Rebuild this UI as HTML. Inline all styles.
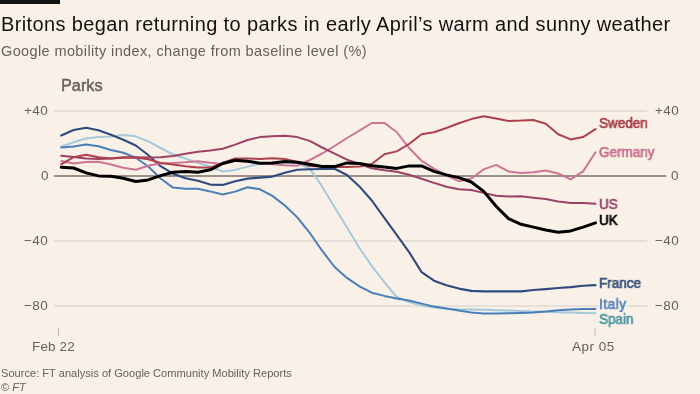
<!DOCTYPE html>
<html><head><meta charset="utf-8">
<style>
html,body{margin:0;padding:0;}
body{width:700px;height:394px;background:#f9f1e7;position:relative;overflow:hidden;font-family:"Liberation Sans",sans-serif;}
.t{position:absolute;white-space:nowrap;line-height:1;will-change:transform;}
#bar{position:absolute;left:0;top:0;width:60px;height:4px;background:#111;}
#title{left:1px;top:13.5px;font-size:20px;letter-spacing:0.38px;color:#121212;}
#sub{left:1px;top:43.5px;font-size:14.5px;letter-spacing:0.38px;color:#66605c;}
#parks{left:61px;top:76.6px;font-size:16.3px;font-weight:normal;-webkit-text-stroke:0.45px #66605c;color:#66605c;}
.yl{font-size:13.5px;color:#66605c;letter-spacing:0.4px;}
.lab{font-size:14px;font-weight:normal;-webkit-text-stroke:0.7px currentColor;transform:scaleX(0.965);transform-origin:0 0;background:#f9f1e7;}
#src{left:1px;top:367.5px;font-size:11.1px;color:#66605c;}
#cr{left:1px;top:381.5px;font-size:11.1px;color:#66605c;}
svg{position:absolute;left:0;top:0;}
</style></head><body>
<div id="bar"></div>
<div class="t" id="title">Britons began returning to parks in early April’s warm and sunny weather</div>
<div class="t" id="sub">Google mobility index, change from baseline level (%)</div>
<div class="t" id="parks">Parks</div>

<svg width="700" height="394" viewBox="0 0 700 394">
  <g stroke="#e1d9cf" stroke-width="1.5" fill="none">
    <line x1="54" y1="111" x2="647" y2="111"/>
    <line x1="54" y1="241" x2="647" y2="241"/>
    <line x1="54" y1="306" x2="647" y2="306"/>
  </g>
  <line x1="54.5" y1="176" x2="665.8" y2="176" stroke="#7b7169" stroke-width="1.6" stroke-linecap="round"/>
  <!--LINES-->
  <polyline points="61.2,146.6 73.6,142.3 86.1,138.4 98.5,136.9 110.9,136.4 123.3,135.1 135.8,136.3 148.2,141.4 160.6,148.0 173.0,154.5 185.5,158.5 197.9,163.0 210.3,166.5 222.7,171.5 235.2,169.9 247.6,166.6 260.0,163.7 272.4,163.0 284.9,162.5 297.3,163.0 309.7,168.6 322.1,186.4 334.6,207.3 347.0,227.5 359.4,248.0 371.8,266.0 384.3,282.1 396.7,297.0 409.1,302.0 421.6,305.5 434.0,307.6 446.4,308.8 458.8,309.3 471.3,309.5 483.7,309.8 496.1,310.2 508.5,310.6 521.0,311.0 533.4,311.4 545.8,311.8 558.2,312.2 570.7,312.6 583.1,313.0 595.5,313.3" stroke="#a4c9da" stroke-width="2" fill="none" stroke-linejoin="round" stroke-linecap="round"/>
  <polyline points="61.2,147.5 73.6,146.5 86.1,144.6 98.5,146.3 110.9,150.0 123.3,152.8 135.8,157.8 148.2,166.5 160.6,178.5 173.0,187.6 185.5,188.8 197.9,188.8 210.3,191.4 222.7,194.5 235.2,191.6 247.6,187.2 260.0,189.3 272.4,195.9 284.9,205.5 297.3,217.4 309.7,232.8 322.1,250.7 334.6,267.0 347.0,277.9 359.4,286.4 371.8,292.7 384.3,295.9 396.7,298.4 409.1,300.5 421.6,303.6 434.0,306.6 446.4,308.6 458.8,310.6 471.3,312.5 483.7,313.4 496.1,313.6 508.5,313.3 521.0,313.0 533.4,312.5 545.8,311.5 558.2,310.2 570.7,309.4 583.1,309.0 595.5,309.0" stroke="#4a7eb8" stroke-width="2" fill="none" stroke-linejoin="round" stroke-linecap="round"/>
  <polyline points="61.2,135.5 73.6,130.0 86.1,127.7 98.5,130.3 110.9,134.7 123.3,139.7 135.8,145.5 148.2,155.0 160.6,166.2 173.0,173.7 185.5,178.2 197.9,180.8 210.3,184.6 222.7,184.9 235.2,181.3 247.6,178.6 260.0,177.6 272.4,176.6 284.9,172.8 297.3,169.8 309.7,169.3 322.1,169.0 334.6,168.8 347.0,175.0 359.4,186.4 371.8,200.5 384.3,217.9 396.7,234.8 409.1,252.1 421.6,272.1 434.0,280.7 446.4,285.3 458.8,288.6 471.3,290.9 483.7,291.4 496.1,291.4 508.5,291.4 521.0,291.4 533.4,290.0 545.8,289.1 558.2,288.0 570.7,287.1 583.1,285.7 595.5,285.1" stroke="#2f4b7e" stroke-width="2.1" fill="none" stroke-linejoin="round" stroke-linecap="round"/>
  <polyline points="61.2,161.0 73.6,163.6 86.1,162.0 98.5,161.8 110.9,164.5 123.3,167.8 135.8,169.7 148.2,165.7 160.6,163.2 173.0,163.0 185.5,162.3 197.9,161.3 210.3,162.8 222.7,163.9 235.2,160.9 247.6,161.6 260.0,163.6 272.4,164.3 284.9,165.3 297.3,165.7 309.7,160.0 322.1,153.5 334.6,146.0 347.0,138.0 359.4,130.6 371.8,123.0 384.3,122.9 396.7,132.0 409.1,148.0 421.6,160.8 434.0,168.6 446.4,175.4 458.8,181.2 471.3,178.5 483.7,169.4 496.1,164.9 508.5,171.4 521.0,172.9 533.4,172.3 545.8,170.6 558.2,173.4 570.7,179.4 583.1,171.4 595.5,152.3" stroke="#cd7595" stroke-width="2" fill="none" stroke-linejoin="round" stroke-linecap="round"/>
  <polyline points="61.2,155.7 73.6,157.1 86.1,158.6 98.5,159.1 110.9,158.6 123.3,157.3 135.8,157.3 148.2,157.5 160.6,157.2 173.0,156.0 185.5,153.8 197.9,151.8 210.3,150.5 222.7,148.7 235.2,144.6 247.6,140.0 260.0,137.1 272.4,136.3 284.9,135.7 297.3,137.1 309.7,140.9 322.1,147.5 334.6,153.6 347.0,159.6 359.4,164.0 371.8,168.2 384.3,170.3 396.7,171.8 409.1,174.7 421.6,178.7 434.0,182.9 446.4,186.8 458.8,189.3 471.3,190.0 483.7,192.9 496.1,195.7 508.5,196.6 521.0,196.3 533.4,197.7 545.8,199.1 558.2,201.4 570.7,202.9 583.1,202.9 595.5,203.7" stroke="#9c4266" stroke-width="2" fill="none" stroke-linejoin="round" stroke-linecap="round"/>
  <polyline points="61.2,164.3 73.6,157.2 86.1,154.8 98.5,157.2 110.9,158.5 123.3,157.8 135.8,157.5 148.2,159.3 160.6,163.0 173.0,164.5 185.5,166.2 197.9,167.4 210.3,167.6 222.7,163.0 235.2,158.5 247.6,158.6 260.0,158.9 272.4,158.3 284.9,158.9 297.3,162.0 309.7,166.0 322.1,166.5 334.6,167.0 347.0,167.0 359.4,166.5 371.8,164.0 384.3,154.3 396.7,151.4 409.1,144.0 421.6,134.3 434.0,132.3 446.4,128.0 458.8,123.3 471.3,119.1 483.7,116.3 496.1,118.6 508.5,120.9 521.0,120.6 533.4,120.0 545.8,123.7 558.2,134.3 570.7,139.4 583.1,137.1 595.5,129.1" stroke="#ad414e" stroke-width="2" fill="none" stroke-linejoin="round" stroke-linecap="round"/>
  <polyline points="61.2,167.2 73.6,168.0 86.1,172.9 98.5,175.9 110.9,176.2 123.3,178.2 135.8,181.5 148.2,179.9 160.6,175.6 173.0,172.3 185.5,171.4 197.9,172.3 210.3,169.8 222.7,163.5 235.2,160.3 247.6,161.2 260.0,163.2 272.4,163.1 284.9,161.6 297.3,162.2 309.7,164.3 322.1,166.5 334.6,166.6 347.0,162.9 359.4,163.6 371.8,165.7 384.3,167.1 396.7,168.4 409.1,165.9 421.6,165.9 434.0,171.4 446.4,174.9 458.8,177.6 471.3,182.0 483.7,191.4 496.1,206.3 508.5,218.6 521.0,224.3 533.4,227.1 545.8,230.0 558.2,232.3 570.7,230.9 583.1,227.1 595.5,222.9" stroke="#000000" stroke-width="3" fill="none" stroke-linejoin="round" stroke-linecap="round"/>
  <!--/LINES-->
  <line x1="58.5" y1="328" x2="58.5" y2="335.5" stroke="#bbb3ab" stroke-width="1"/>
  <line x1="595" y1="328" x2="595" y2="335.5" stroke="#bbb3ab" stroke-width="1"/>
</svg>

<div class="t yl" id="yl40" style="left:24px;top:104px;">+40</div>
<div class="t yl" id="yl0" style="left:40.5px;top:168.6px;">0</div>
<div class="t yl" id="ylm40" style="left:24px;top:234px;">−40</div>
<div class="t yl" id="ylm80" style="left:24px;top:299px;">−80</div>
<div class="t yl" id="yr40" style="left:655px;top:104px;">+40</div>
<div class="t yl" id="yr0" style="left:671px;top:168.6px;">0</div>
<div class="t yl" id="yrm40" style="left:655px;top:234px;">−40</div>
<div class="t yl" id="yrm80" style="left:655px;top:299px;">−80</div>

<div class="t yl" id="feb" style="left:31.5px;top:340px;letter-spacing:0.15px;">Feb 22</div>
<div class="t yl" id="apr" style="left:571.5px;top:340px;letter-spacing:0.5px;">Apr 05</div>

<div class="t lab" id="lse" style="left:599px;top:115.5px;color:#a8404c;">Sweden</div>
<div class="t lab" id="lge" style="left:599px;top:144.5px;color:#c9708f;">Germany</div>
<div class="t lab" id="lus" style="left:599px;top:197.3px;color:#9b4869;">US</div>
<div class="t lab" id="luk" style="left:599px;top:213.3px;color:#000;">UK</div>
<div class="t lab" id="lfr" style="left:599px;top:276px;color:#38547f;">France</div>
<div class="t lab" id="lit" style="letter-spacing:0.6px;left:599px;top:296.5px;color:#5283ba;">Italy</div>
<div class="t lab" id="lsp" style="left:599px;top:311.5px;color:#4d97a5;">Spain</div>

<div class="t" id="src">Source: FT analysis of Google Community Mobility Reports</div>
<div class="t" id="cr">© <i>FT</i></div>
</body></html>
